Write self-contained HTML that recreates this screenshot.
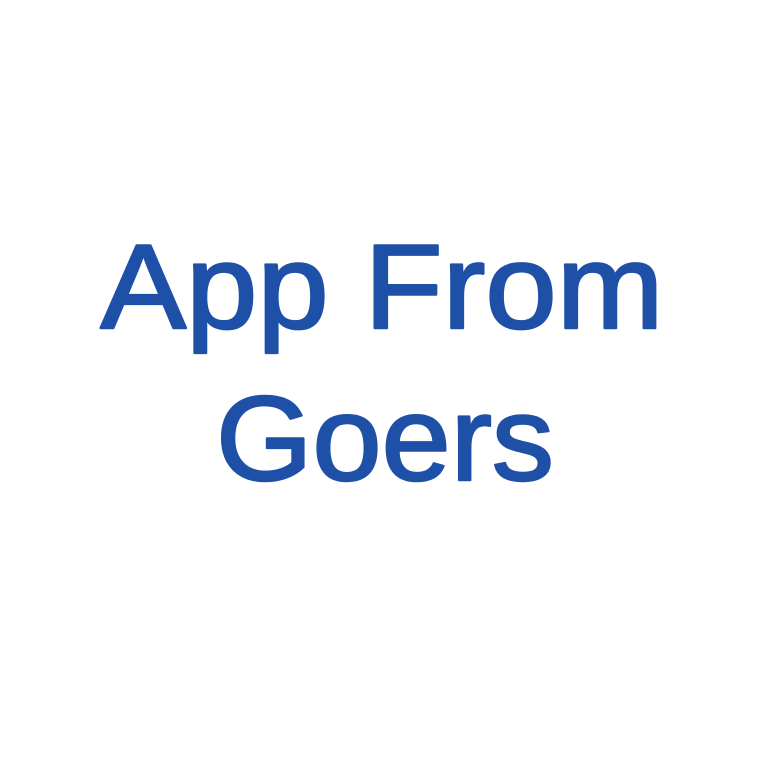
<!DOCTYPE html>
<html>
<head>
<meta charset="utf-8">
<style>
  html, body { margin: 0; padding: 0; background: #ffffff; }
  body { width: 758px; height: 758px; overflow: hidden; }
  svg text { font-family: "Liberation Sans", sans-serif; font-weight: normal; fill: #1e50a8; stroke: #1e50a8; stroke-width: 2.5; stroke-linejoin: round; }
</style>
</head>
<body>
<svg width="758" height="758" viewBox="0 0 758 758">
  <rect x="0" y="0" width="758" height="758" fill="#ffffff"/>
  <text x="382" y="328" font-size="120" text-anchor="middle" textLength="563" lengthAdjust="spacingAndGlyphs">App From</text>
  <text x="385" y="480" font-size="120" text-anchor="middle" textLength="338" lengthAdjust="spacingAndGlyphs">Goers</text>
</svg>
</body>
</html>
